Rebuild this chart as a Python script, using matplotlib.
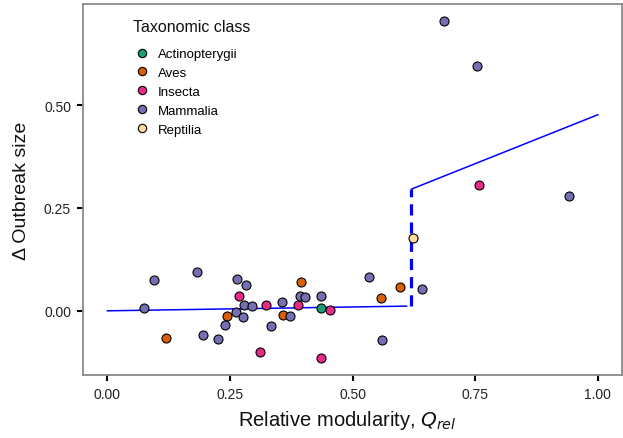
import numpy as np
import matplotlib
matplotlib.use("Agg")
import matplotlib.pyplot as plt
from matplotlib.lines import Line2D

plt.rcParams["font.family"] = ["Liberation Sans", "DejaVu Sans"]

# Data: relative modularity vs change in outbreak size
classes = ["Actinopterygii", "Aves", "Insecta", "Mammalia", "Reptilia"]
class_colors = ["#1B9E77", "#D95F02", "#E7298A", "#7570B3", "#FDD9A0"]

mammalia_x = [0.096, 0.182, 0.075, 0.195, 0.226, 0.239, 0.264, 0.282, 0.279, 0.263,
              0.276, 0.295, 0.333, 0.356, 0.373, 0.392, 0.403, 0.436, 0.533, 0.560,
              0.641, 0.941, 0.687, 0.753]
mammalia_y = [0.074, 0.095, 0.006, -0.058, -0.069, -0.034, 0.077, 0.063, 0.014, -0.004,
              -0.016, 0.011, -0.037, 0.022, -0.013, 0.035, 0.033, 0.035, 0.081, -0.072,
              0.054, 0.278, 0.704, 0.594]
aves_x = [0.119, 0.243, 0.358, 0.394, 0.557, 0.597]
aves_y = [-0.066, -0.012, -0.009, 0.070, 0.032, 0.059]
insecta_x = [0.269, 0.312, 0.323, 0.389, 0.436, 0.453, 0.758]
insecta_y = [0.037, -0.100, 0.015, 0.013, -0.115, 0.003, 0.306]
actino_x = [0.436]
actino_y = [0.006]
reptilia_x = [0.624]
reptilia_y = [0.178]

# Piecewise fit either side of the threshold
threshold = 0.6185
fit_left_x = [0.0, 0.610]
fit_left_y = [0.0, 0.0114]
fit_right_x = [0.6205, 1.0]
fit_right_y = [0.296, 0.4765]
jump_y = [0.0114, 0.296]

series = {
    "Actinopterygii": (actino_x, actino_y),
    "Aves": (aves_x, aves_y),
    "Insecta": (insecta_x, insecta_y),
    "Mammalia": (mammalia_x, mammalia_y),
    "Reptilia": (reptilia_x, reptilia_y),
}

fig = plt.figure(figsize=(6.23, 4.39), dpi=100)
ax = fig.add_axes([0.133, 0.1435, 0.866, 0.8455])

ax.plot(fit_left_x, fit_left_y, color="blue", lw=1.1, zorder=2)
ax.plot(fit_right_x, fit_right_y, color="blue", lw=1.1, zorder=2)
ax.plot([threshold, threshold], jump_y, color="blue", lw=2.3,
        dashes=(3.5, 2.2), zorder=2)

for name, color in zip(classes, class_colors):
    xs, ys = series[name]
    ax.scatter(xs, ys, s=42, color=color, edgecolor="black", linewidth=0.8, zorder=3)

ax.set_xlim(-0.05, 1.05)
ax.set_ylim(-0.156, 0.746)
ax.set_xticks([0.0, 0.25, 0.5, 0.75, 1.0])
ax.set_xticklabels(["0.00", "0.25", "0.50", "0.75", "1.00"])
ax.set_yticks([0.0, 0.25, 0.5])
ax.set_yticklabels(["0.00", "0.25", "0.50"])
ax.tick_params(axis="both", length=4.5, width=1.5, color="black",
               labelsize=10, labelcolor="#222222", pad=4)

for spine in ax.spines.values():
    spine.set_color("#8a8a8a")
    spine.set_linewidth(1.3)

ax.set_xlabel(r"Relative modularity, $Q_{rel}$", fontsize=14.5, color="#111111")
ax.set_ylabel("Δ Outbreak size", fontsize=14, color="#111111")
ax.xaxis.set_label_coords(0.49, -0.09)
ax.yaxis.set_label_coords(-0.098, 0.5)

handles = [Line2D([], [], marker="o", linestyle="none", markersize=6,
                  markerfacecolor=c, markeredgecolor="black", markeredgewidth=0.8)
           for c in class_colors]
ax.legend(handles, classes, loc="upper left", bbox_to_anchor=(0.0945, 0.881),
          frameon=False, fontsize=9.5, labelspacing=0.5, handletextpad=0.62,
          handlelength=1.2, borderpad=0, borderaxespad=0)
ax.text(0.0927, 0.938, "Taxonomic class", transform=ax.transAxes,
        ha="left", va="center", fontsize=11.5, color="#111111")

fig.savefig("out.png", dpi=100)
